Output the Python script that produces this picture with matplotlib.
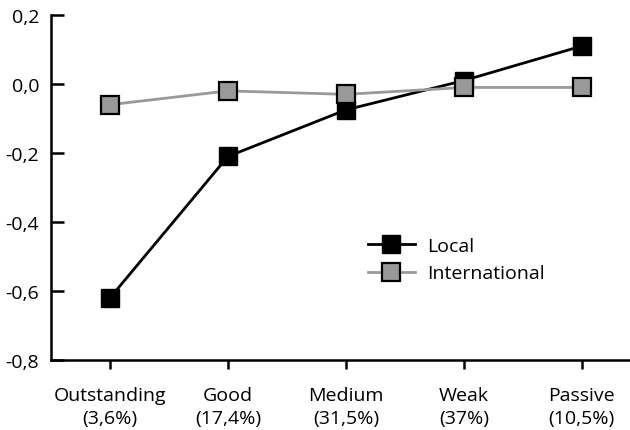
import matplotlib
matplotlib.use("Agg")
import matplotlib.pyplot as plt
import matplotlib.transforms as mtransforms

categories = ["Outstanding\n(3,6%)", "Good\n(17,4%)", "Medium\n(31,5%)", "Weak\n(37%)", "Passive\n(10,5%)"]
local_vals = [-0.62, -0.21, -0.075, 0.01, 0.11]
intl_vals = [-0.06, -0.02, -0.03, -0.01, -0.01]
yticks = [-0.8, -0.6, -0.4, -0.2, 0.0, 0.2]
ytick_labels = ["-0,8", "-0,6", "-0,4", "-0,2", "0,0", "0,2"]

plt.rcParams['font.family'] = ['Open Sans', 'DejaVu Sans']

fig = plt.figure(figsize=(6.3, 4.31), dpi=100)
ax = fig.add_axes([51/630, 70/431, 578/630, 345/431])

x = list(range(len(categories)))
ax.plot(x, local_vals, color='black', lw=2.0, marker='s', markersize=13,
        markerfacecolor='black', markeredgecolor='black', markeredgewidth=1.0,
        label='Local', zorder=3, clip_on=False)
ax.plot(x, intl_vals, color='#999999', lw=2.0, marker='s', markersize=12.3,
        markerfacecolor='#999999', markeredgecolor='black', markeredgewidth=1.6,
        label='International', zorder=4, clip_on=False)

ax.set_xlim(-0.5, 4.4)
ax.set_ylim(-0.8, 0.2)
ax.set_xticks(x)
ax.set_xticklabels(categories, fontsize=14, linespacing=1.32)
ax.set_yticks(yticks)
ax.set_yticklabels(ytick_labels, fontsize=14)

offset = mtransforms.ScaledTranslation(0, -4/100, fig.dpi_scale_trans)
for lab in ax.get_yticklabels():
    lab.set_transform(lab.get_transform() + offset)

for s in ['top', 'right']:
    ax.spines[s].set_visible(False)
for s in ['left', 'bottom']:
    ax.spines[s].set_linewidth(1.8)

ax.tick_params(axis='y', direction='in', length=9.5, width=1.8, pad=8.5)
ax.tick_params(axis='x', direction='out', length=6.5, width=1.8, pad=12.5)

leg = fig.legend(handles=ax.get_lines(), loc='upper left',
                 bbox_to_anchor=(368/630, (431-238)/431), frameon=False,
                 fontsize=14, handlelength=2.4, handletextpad=0.65,
                 labelspacing=0.48, borderpad=0, borderaxespad=0)

fig.savefig("out.png", dpi=100)
